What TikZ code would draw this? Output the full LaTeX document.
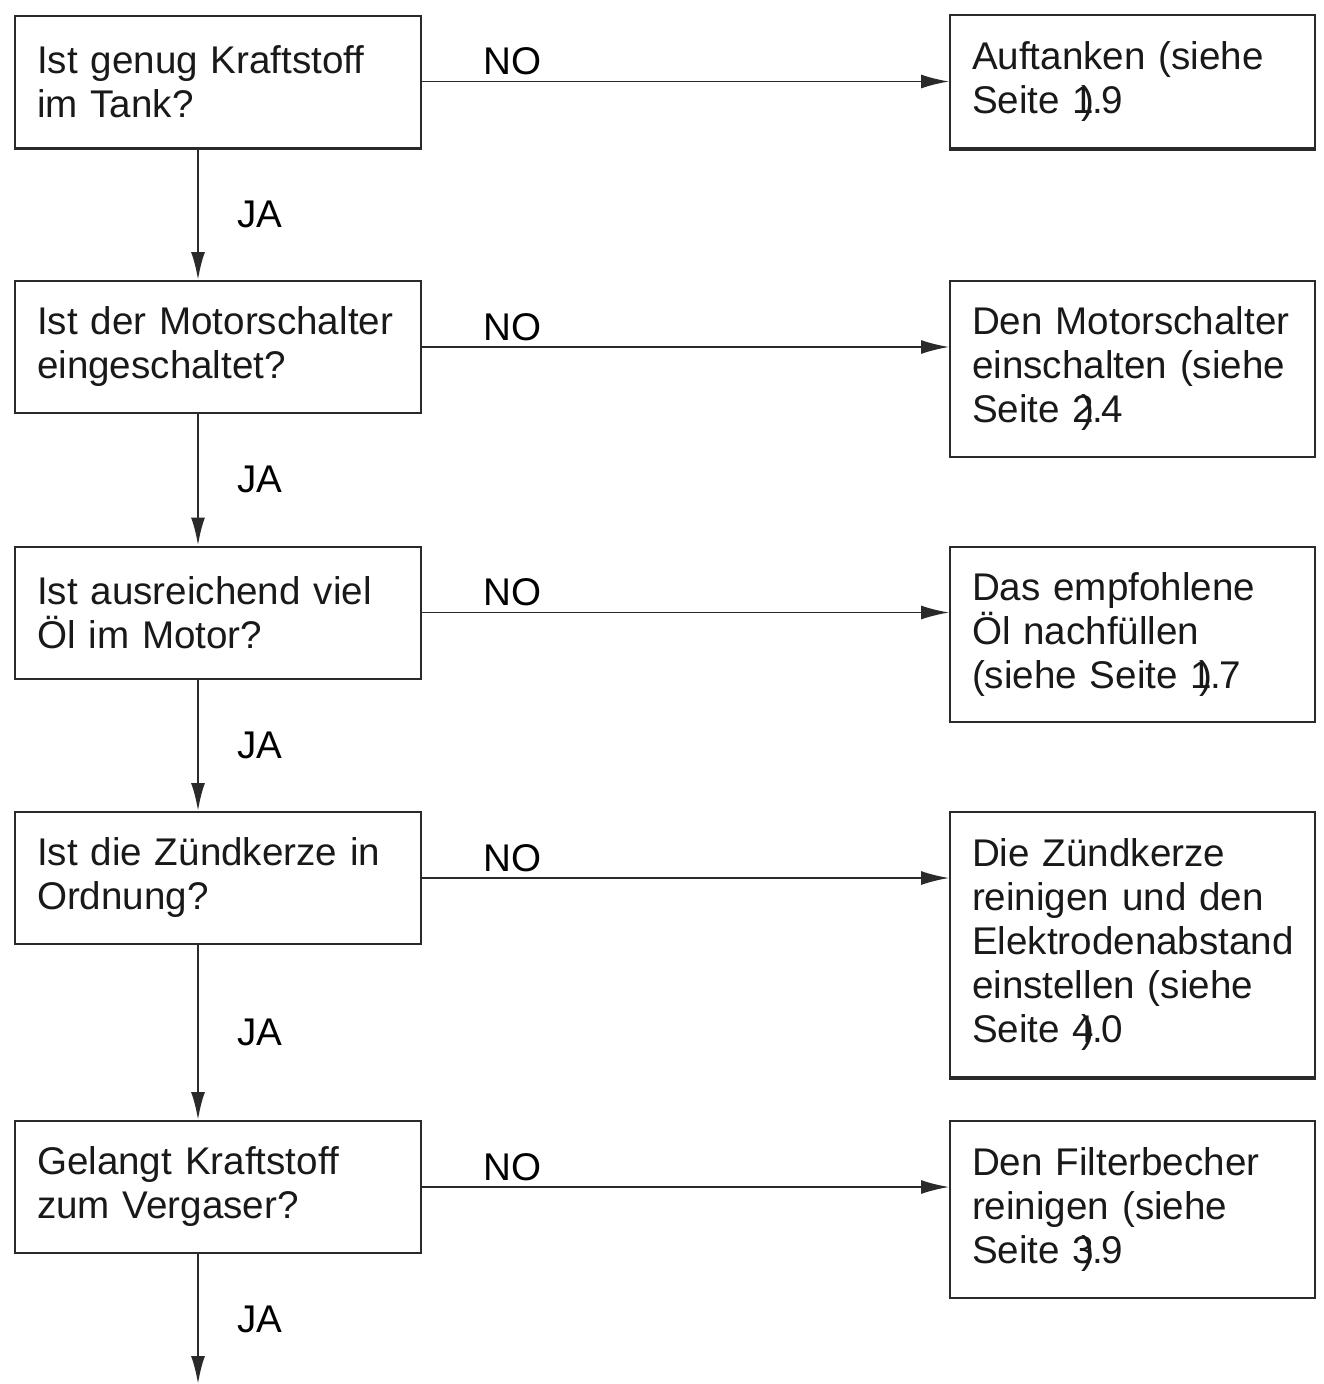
\documentclass[tikz,border=0pt]{standalone}
\usepackage{fontspec}
\setmainfont{Liberation Sans}
\usepackage{xcolor}
\usetikzlibrary{arrows.meta,positioning,calc}
\definecolor{lineGray}{HTML}{2A2A2A}
\newcommand{\seite}[2]{#1\llap{)}\kern-2pt.\kern-2pt#2}

\begin{document}
\begin{tikzpicture}[x=1pt, y=-1pt, font=\fontsize{38.6}{44}\selectfont,
    frage/.style={draw=lineGray, line width=2pt, text width=362pt, inner xsep=22pt,
      minimum height=132pt, align=left, text=black!90},
    hilfe/.style={draw=lineGray, line width=2pt, text width=321pt, inner xsep=22pt,
      align=left, text=black!90},
    pfeil/.style={draw=lineGray, line width=1.6pt, -{Latex[length=28pt,width=14pt]}},
    nein/.style={pos=0, anchor=base west, xshift=61pt, yshift=7pt, inner sep=0pt},
    ja/.style={midway, anchor=west, xshift=38pt, inner sep=0pt}]
  \useasboundingbox (0,0) rectangle (1323,1384);
  % questions
  \node[frage] (f1) at (218,81.5) {Ist genug Kraftstoff\\im Tank?};
  \node[frage] (f2) at (218,347) {Ist der Motorschalter\\eingeschaltet?};
  \node[frage] (f3) at (218,612.5) {Ist ausreichend viel\\Öl im Motor?};
  \node[frage] (f4) at (218,878) {Ist die Zündkerze in\\Ordnung?};
  \node[frage] (f5) at (218,1187) {Gelangt Kraftstoff\\zum Vergaser?};
  % remedies
  \node[hilfe, minimum height=133pt] (h1) at (1132.5,81.5) {Auftanken (siehe\\Seite \seite19};
  \node[hilfe, minimum height=176pt] (h2) at (1132.5,369) {Den Motorschalter\\einschalten (siehe\\Seite \seite24};
  \node[hilfe, minimum height=175pt] (h3) at (1132.5,634.5) {Das empfohlene\\Öl nachfüllen\\(siehe Seite \seite17};
  \node[hilfe, minimum height=265pt] (h4) at (1132.5,944.5) {Die Zündkerze\\reinigen und den\\Elektrodenabstand\\einstellen (siehe\\Seite \seite40};
  \node[hilfe, minimum height=177pt] (h5) at (1132.5,1209.5) {Den Filterbecher\\reinigen (siehe\\Seite \seite39};
  % heavier bottom edges
  \foreach \n in {f1,h1,h4}
    \draw[lineGray, line width=3.5pt] (\n.south west) -- (\n.south east);
  % NO branches
  \foreach \i in {1,...,5}
    \draw[pfeil] (f\i.east) -- (f\i.east -| h\i.west) node[nein] {NO};
  % JA branches
  \foreach \i/\j in {1/2,2/3,3/4,4/5}
    \draw[pfeil, line width=2.4pt] ([xshift=-20pt]f\i.south) -- ([xshift=-20pt]f\j.north) node[ja] {JA};
  \coordinate (ende) at (198,1384);
  \draw[pfeil, line width=2.4pt] ([xshift=-20pt]f5.south) -- (ende) node[ja] {JA};
\end{tikzpicture}
\end{document}
